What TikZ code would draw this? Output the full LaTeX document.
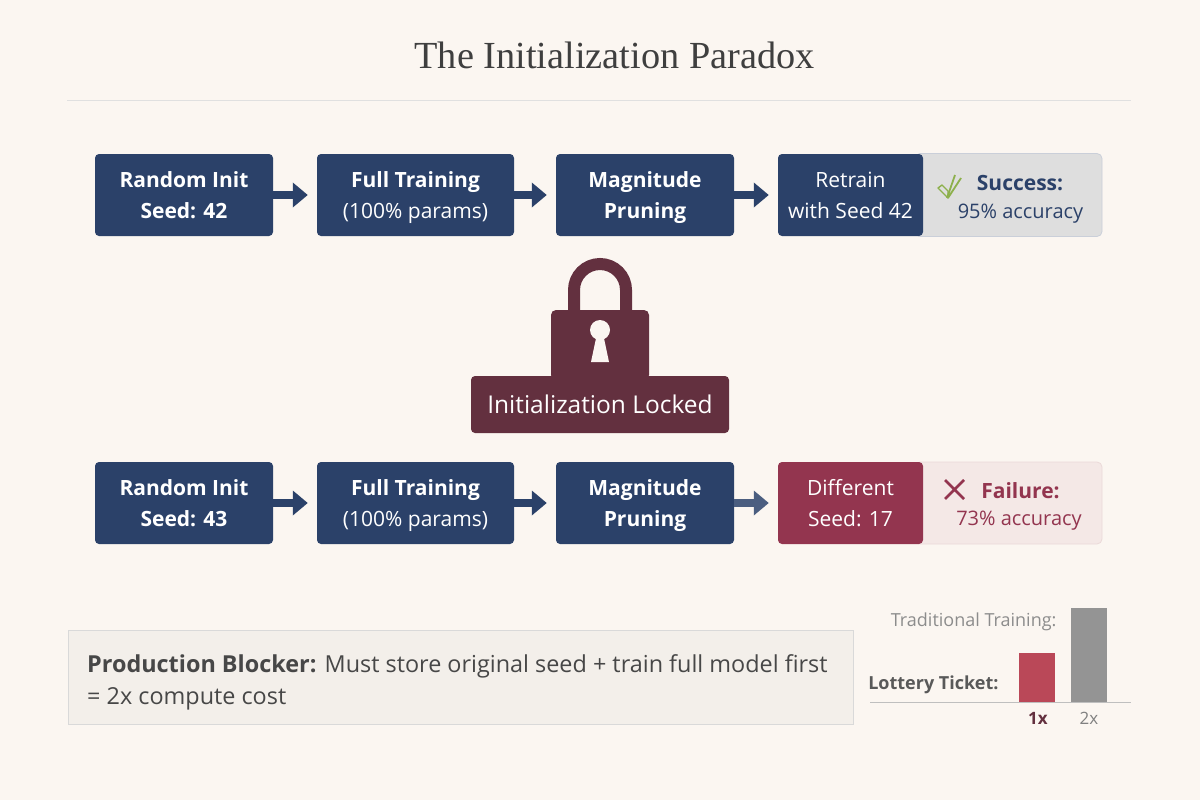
\documentclass[tikz,border=0pt]{standalone}
\usepackage{fontspec}
\setmainfont{Open Sans}
\newfontfamily\titlefont{Liberation Serif}
\usetikzlibrary{arrows.meta}
\definecolor{paper}{HTML}{FBF6F1}
\definecolor{navy}{HTML}{2B4169}
\definecolor{wine}{HTML}{63303F}
\definecolor{crimson}{HTML}{93354F}
\definecolor{inkgrey}{HTML}{3F3F3F}
\definecolor{tick}{HTML}{8DB04C}
\tikzset{
  boxstep/.style={fill=navy,rounded corners=4pt,text=white,align=center,minimum height=82pt,text depth=0pt,font=\fontsize{21}{31}\selectfont},
  flow/.style={draw=navy,line width=8pt,-{Triangle[length=15pt,width=24pt]},shorten >=9pt},
  result/.style={rounded corners=5pt,line width=.8pt}
}
\begin{document}
\begin{tikzpicture}[x=1pt,y=-1pt]%1 unit = 1 pixel
\fill [paper] (0,0) rectangle (1200,800);
\useasboundingbox (0,0) rectangle (1200,800);

\node (title) at (614.5,55) {\titlefont\fontsize{38.3}{44}\selectfont\color{inkgrey}The Initialization Paradox};
\draw [line width=.8pt,black!12] (67,100) -- (1131,100);

%upper row
\node (initA) [boxstep,minimum width=178pt] at (184,195) {\textbf{Random Init}\\\textbf{Seed: 42}};
\node (fullA) [boxstep,minimum width=197pt] at (415.5,195) {\textbf{Full Training}\\(100\% params)};
\node (pruneA) [boxstep,minimum width=178pt] at (645,195) {\textbf{Magnitude}\\\textbf{Pruning}};
\node (okpanel) [result,fill=black!13,draw=navy!25,minimum width=187pt,minimum height=83pt] at (1008.5,195) {};
\node (retrain) [boxstep,minimum width=145pt] at (850.5,195) {Retrain\\with Seed 42};
\node (oktext) [text=navy,font=\fontsize{21}{24}\selectfont\bfseries] at (1020,183) {Success:};
\node (okval) [text=navy,font=\fontsize{20}{24}\selectfont] at (1020.5,214) {95\% accuracy};
\draw [tick,line width=1.4pt,line join=round] (938,188) -- (942,185) -- (948,191) -- (948,198) -- cycle;
\draw [tick,line width=1.8pt] (947,198) -- (955,175) (948,198) -- (961,178);

\draw [flow] (initA) -- (fullA);
\draw [flow] (fullA) -- (pruneA);
\draw [flow] (pruneA) -- (retrain);

%lock
\draw [line width=12pt,wine] (574,312) -- (574,290) arc (180:360:26 and 26) -- (626,312);
\node (lockbody) [fill=wine,rounded corners=5pt,minimum width=98pt,minimum height=70pt] at (600,345) {};
\fill [paper] (600,330) circle (10);
\fill [paper] (596.5,336) -- (603.5,336) -- (609,362) -- (591,362) -- cycle;
\node (locked) [fill=wine,rounded corners=4pt,text=white,minimum width=258pt,minimum height=57pt,font=\fontsize{24.5}{28}\selectfont] at (600,404.5) {Initialization Locked};

%lower row
\node (initB) [boxstep,minimum width=178pt] at (184,503) {\textbf{Random Init}\\\textbf{Seed: 43}};
\node (fullB) [boxstep,minimum width=197pt] at (415.5,503) {\textbf{Full Training}\\(100\% params)};
\node (pruneB) [boxstep,minimum width=178pt] at (645,503) {\textbf{Magnitude}\\\textbf{Pruning}};
\node (badpanel) [result,fill=crimson!7!paper,draw=crimson!15!paper,minimum width=187pt,minimum height=82pt] at (1008.5,503) {};
\node (different) [boxstep,fill=crimson,minimum width=145pt] at (850.5,503) {Different\\Seed: 17};
\node (badtext) [text=crimson,font=\fontsize{21}{24}\selectfont\bfseries] at (1020.5,491) {Failure:};
\node (badval) [text=crimson,font=\fontsize{20}{24}\selectfont] at (1019,521) {73\% accuracy};
\draw [crimson,line width=2.6pt] (945,480) -- (964,499) (964,480) -- (945,499);

\draw [flow] (initB) -- (fullB);
\draw [flow] (fullB) -- (pruneB);
\draw [flow,draw=navy!85!white] (pruneB) -- (different);

%blocker
\node (blocker) [draw=black!15,fill=black!3!paper,minimum width=785pt,minimum height=94pt] at (460.5,677) {};
\node (blockA) [anchor=west,inner sep=0pt,text=black!72,font=\fontsize{23.4}{28}\selectfont] at (87,666) {\textbf{Production Blocker:} Must store original seed + train full model first};
\node (blockB) [anchor=west,inner sep=0pt,text=black!72,font=\fontsize{23.4}{28}\selectfont] at (87,699) {= 2x compute cost};

%bars
\fill [crimson!75!red!85!white] (1019,653) rectangle (1055,702);
\fill [black!42] (1071,608) rectangle (1107,702);
\draw [black!25,line width=.8pt] (870,702.5) -- (1131,702.5);
\node (trad) [anchor=east,text=black!45,font=\fontsize{18}{22}\selectfont] at (1060,622) {Traditional Training:};
\node (lottery) [anchor=east,text=black!65,font=\fontsize{18}{22}\selectfont\bfseries] at (1002,685) {Lottery Ticket:};
\node (one) [text=wine,font=\fontsize{17}{20}\selectfont\bfseries] at (1038,718) {1x};
\node (two) [text=black!50,font=\fontsize{17}{20}\selectfont] at (1089,718) {2x};
\end{tikzpicture}
\end{document}
